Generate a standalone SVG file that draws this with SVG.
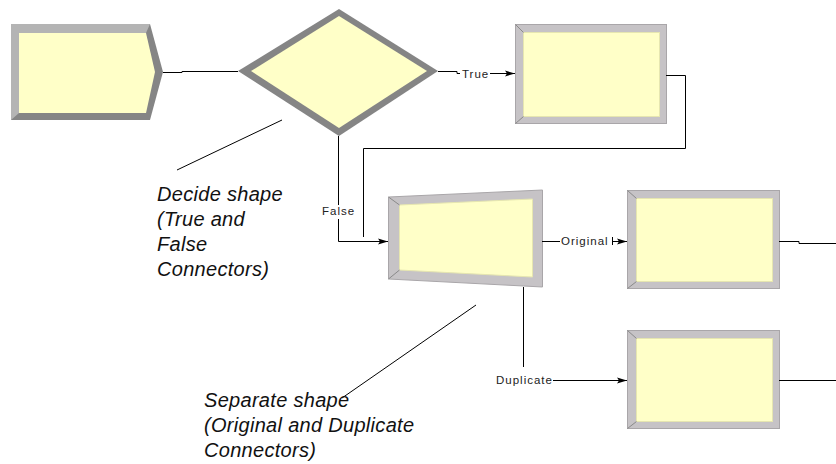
<svg xmlns="http://www.w3.org/2000/svg" width="836" height="464" viewBox="0 0 836 464">
<style>
.fill{fill:#ffffc8}
.inner{fill:#ffffc8;stroke:#e6e6b0;stroke-width:1}
.outer{fill:#c6c3c6;stroke:#a9a6a9;stroke-width:1}
.dark{fill:#858585}
.light{fill:#b4b4b4}
.bevel{stroke:#8a8a8a;stroke-width:1;fill:none}
.conn{fill:none;stroke:#000;stroke-width:1}
.lbl{font-family:"Liberation Sans",Arial,sans-serif;font-size:11.5px;letter-spacing:1px;fill:#222}
.note{font-family:"Liberation Sans",Arial,sans-serif;font-size:20px;font-style:italic;letter-spacing:0.3px;fill:#111}
</style>
<defs>
<marker id="arr" viewBox="0 0 10 8" refX="10" refY="4" markerWidth="10" markerHeight="8" markerUnits="userSpaceOnUse" orient="auto">
<path d="M0,1 L10,4 L0,7 L2,4 Z" fill="#000"/>
</marker>
</defs>
<rect width="836" height="464" fill="#fff"/>

<g id="create">
<polygon class="dark" points="11,24 150,24 163,72 150,120 11,120"/>
<polygon class="light" points="11,24 150,24 146,33 19,33 19,113 11,120"/>
<polygon class="fill" points="19,33 146,33 155,72 146,113 19,113"/>
</g>

<g id="decide">
<polygon class="dark" points="238,71 339,9 438,71 339,136"/>
<polygon class="fill" points="251,71 339,16 427,71 339,128"/>
</g>

<g id="process1">
<rect class="outer" x="515.5" y="24.5" width="151" height="99"/>
<rect class="inner" x="523.5" y="32.5" width="136" height="84"/>
<path class="bevel" d="M515.5,24.5 L523.5,32.5 M515.5,123.5 L523.5,116.5"/>
</g>

<g id="separate">
<polygon class="outer" points="388.5,197 542.5,190 542.5,287 388.5,279"/>
<polygon class="inner" points="399.5,205 532.5,199 532.5,277 399.5,270"/>
<path class="bevel" d="M388.5,197 L399.5,205 M388.5,279 L399.5,270"/>
</g>

<g id="process2">
<rect class="outer" x="627.5" y="190.5" width="152" height="98"/>
<rect class="inner" x="636.5" y="198.5" width="136" height="83"/>
<path class="bevel" d="M627.5,190.5 L636.5,198.5 M627.5,288.5 L636.5,281.5"/>
</g>

<g id="process3">
<rect class="outer" x="627.5" y="330.5" width="152" height="98"/>
<rect class="inner" x="636.5" y="338.5" width="136" height="83"/>
<path class="bevel" d="M627.5,330.5 L636.5,338.5 M627.5,428.5 L636.5,421.5"/>
</g>

<g id="connectors">
<path class="conn" d="M163,72.5 H182 V71.5 H238"/>
<path class="conn" d="M438,71.5 H457 V73.5 H460"/>
<path class="conn" d="M490,73.5 H515" marker-end="url(#arr)"/>
<path class="conn" d="M666,75.5 H685.5 V148.5 H363.5 V237"/>
<path class="conn" d="M338.5,136 V205"/>
<path class="conn" d="M338.5,219 V241.5 H388" marker-end="url(#arr)"/>
<path class="conn" d="M542,241.5 H560"/>
<path class="conn" d="M612.5,237 V245 M612,241.5 H627" marker-end="url(#arr)"/>
<path class="conn" d="M779,241.5 H799 V243.5 H836"/>
<path class="conn" d="M523.5,287 V367"/>
<path class="conn" d="M553,380.5 H627" marker-end="url(#arr)"/>
<path class="conn" d="M779,380.5 H836"/>
<text class="lbl" x="462" y="78">True</text>
<text class="lbl" x="322" y="215">False</text>
<text class="lbl" x="561" y="245">Original</text>
<text class="lbl" x="496" y="384">Duplicate</text>
</g>

<g id="notes">
<line class="conn" x1="177" y1="170" x2="282" y2="120"/>
<line class="conn" x1="342" y1="398" x2="476" y2="305"/>
<text class="note" x="157" y="201">Decide shape</text>
<text class="note" x="157" y="226">(True and</text>
<text class="note" x="157" y="251">False</text>
<text class="note" x="157" y="276">Connectors)</text>
<text class="note" x="204" y="407">Separate shape</text>
<text class="note" x="204" y="432">(Original and Duplicate</text>
<text class="note" x="204" y="457">Connectors)</text>
</g>
</svg>
